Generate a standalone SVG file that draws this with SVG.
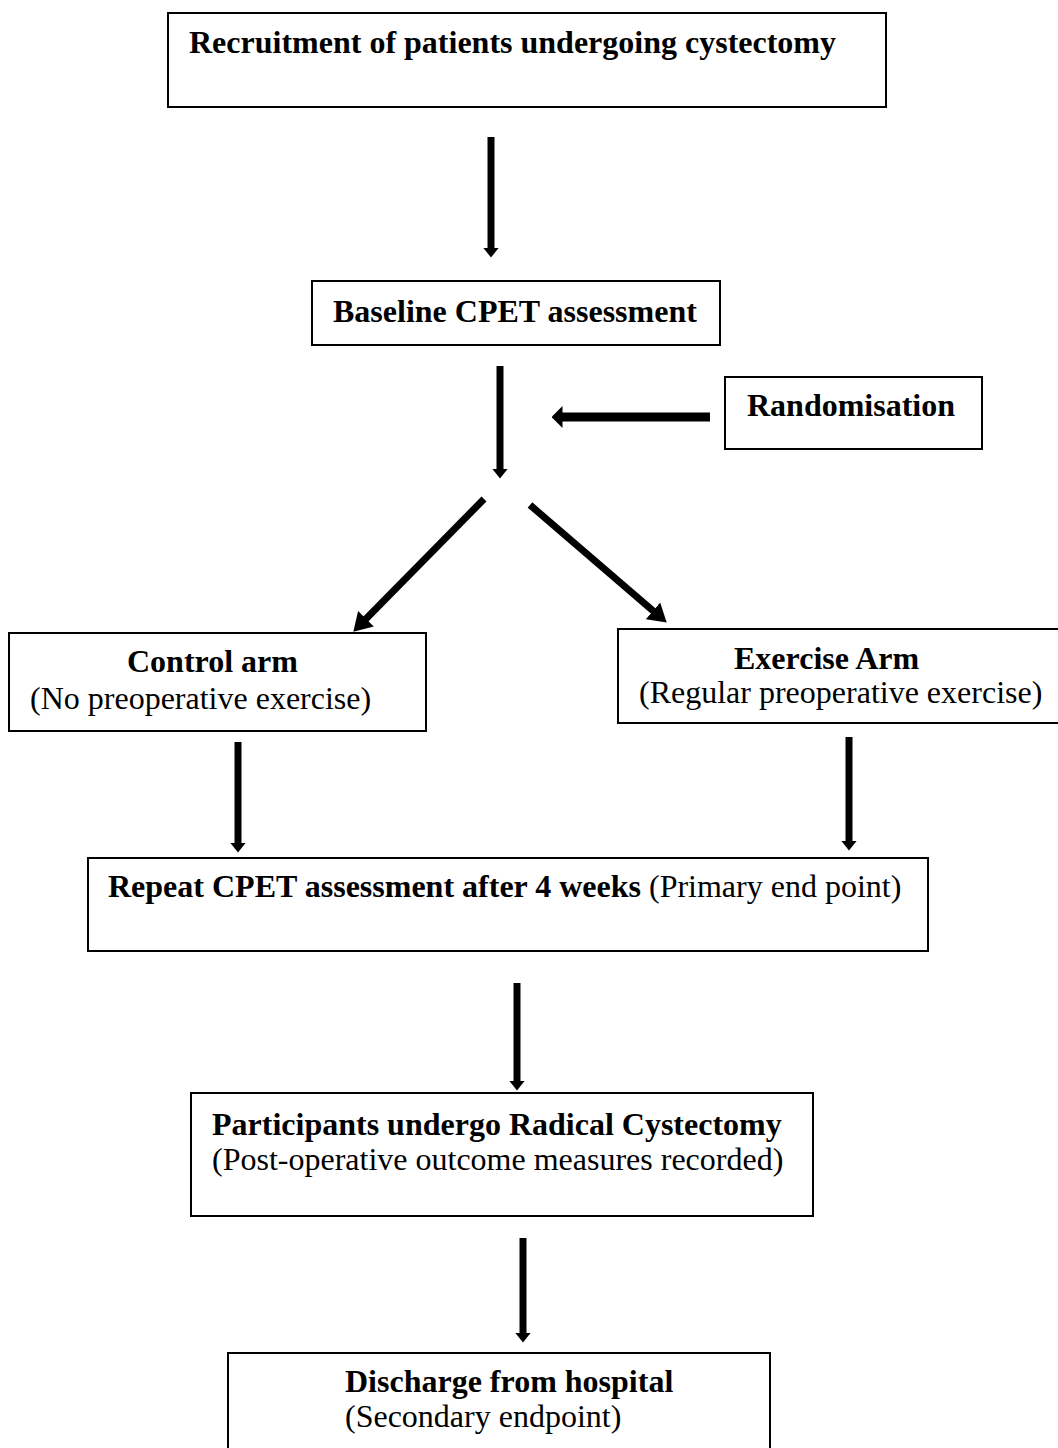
<svg xmlns="http://www.w3.org/2000/svg" width="1058" height="1448" viewBox="0 0 1058 1448">
  <style>
    .box { fill: #ffffff; stroke: #000000; stroke-width: 2; }
    .t { font-family: "Liberation Serif", "Times New Roman", serif; font-size: 32px; fill: #000000; }
    .b { font-weight: bold; }
    .arr { stroke: #000000; fill: none; stroke-linecap: butt; }
    .v { stroke-width: 7; marker-end: url(#headV); }
    .h { stroke-width: 9; marker-end: url(#headH); }
    .d { stroke-width: 7; marker-end: url(#headD); }
  </style>
  <defs>
    <marker id="headV" markerUnits="userSpaceOnUse" markerWidth="10" markerHeight="16" viewBox="0 0 10 16" refX="0.5" refY="8" orient="auto">
      <path d="M0,0 L10,8 L0,16 z" fill="#000000"/>
    </marker>
    <marker id="headH" markerUnits="userSpaceOnUse" markerWidth="11" markerHeight="22" viewBox="0 0 11 22" refX="0.5" refY="11" orient="auto">
      <path d="M0,0 L11,11 L0,22 z" fill="#000000"/>
    </marker>
    <marker id="headD" markerUnits="userSpaceOnUse" markerWidth="18" markerHeight="22" viewBox="0 0 18 22" refX="0.5" refY="11" orient="auto">
      <path d="M0,0 L18,11 L0,22 z" fill="#000000"/>
    </marker>
  </defs>
  <rect width="1058" height="1448" fill="#ffffff"/>

  <g id="connectors">
    <line class="arr v" x1="491" y1="137" x2="491" y2="248"/>
    <line class="arr v" x1="500" y1="366" x2="500" y2="469"/>
    <line class="arr h" x1="710" y1="417" x2="562" y2="417"/>
    <line class="arr d" x1="484" y1="499" x2="365.6" y2="619.2"/>
    <line class="arr d" x1="530" y1="505" x2="653.4" y2="611.2"/>
    <line class="arr v" x1="238" y1="742" x2="238" y2="843"/>
    <line class="arr v" x1="849" y1="737" x2="849" y2="841"/>
    <line class="arr v" x1="517" y1="983" x2="517" y2="1081"/>
    <line class="arr v" x1="523" y1="1238" x2="523" y2="1333"/>
  </g>

  <g id="recruitment">
    <rect class="box" x="168" y="13" width="718" height="94"/>
    <text class="t b" x="189" y="53">Recruitment of patients undergoing cystectomy</text>
  </g>

  <g id="baseline">
    <rect class="box" x="312" y="281" width="408" height="64"/>
    <text class="t b" x="333" y="322">Baseline CPET assessment</text>
  </g>

  <g id="randomisation">
    <rect class="box" x="725" y="377" width="257" height="72"/>
    <text class="t b" x="747" y="416">Randomisation</text>
  </g>

  <g id="control-arm">
    <rect class="box" x="9" y="633" width="417" height="98"/>
    <text class="t b" x="127" y="672">Control arm</text>
    <text class="t" x="30" y="709">(No preoperative exercise)</text>
  </g>

  <g id="exercise-arm">
    <rect class="box" x="618" y="629" width="460" height="94"/>
    <text class="t b" x="734" y="669">Exercise Arm</text>
    <text class="t" x="639" y="703">(Regular preoperative exercise)</text>
  </g>

  <g id="repeat-cpet">
    <rect class="box" x="88" y="858" width="840" height="93"/>
    <text class="t" x="108" y="897"><tspan class="b">Repeat CPET assessment after 4 weeks</tspan> (Primary end point)</text>
  </g>

  <g id="surgery">
    <rect class="box" x="191" y="1093" width="622" height="123"/>
    <text class="t b" x="212" y="1135">Participants undergo Radical Cystectomy</text>
    <text class="t" x="212" y="1170">(Post-operative outcome measures recorded)</text>
  </g>

  <g id="discharge">
    <rect class="box" x="228" y="1353" width="542" height="120"/>
    <text class="t b" x="345" y="1392">Discharge from hospital</text>
    <text class="t" x="345" y="1427">(Secondary endpoint)</text>
  </g>
</svg>
